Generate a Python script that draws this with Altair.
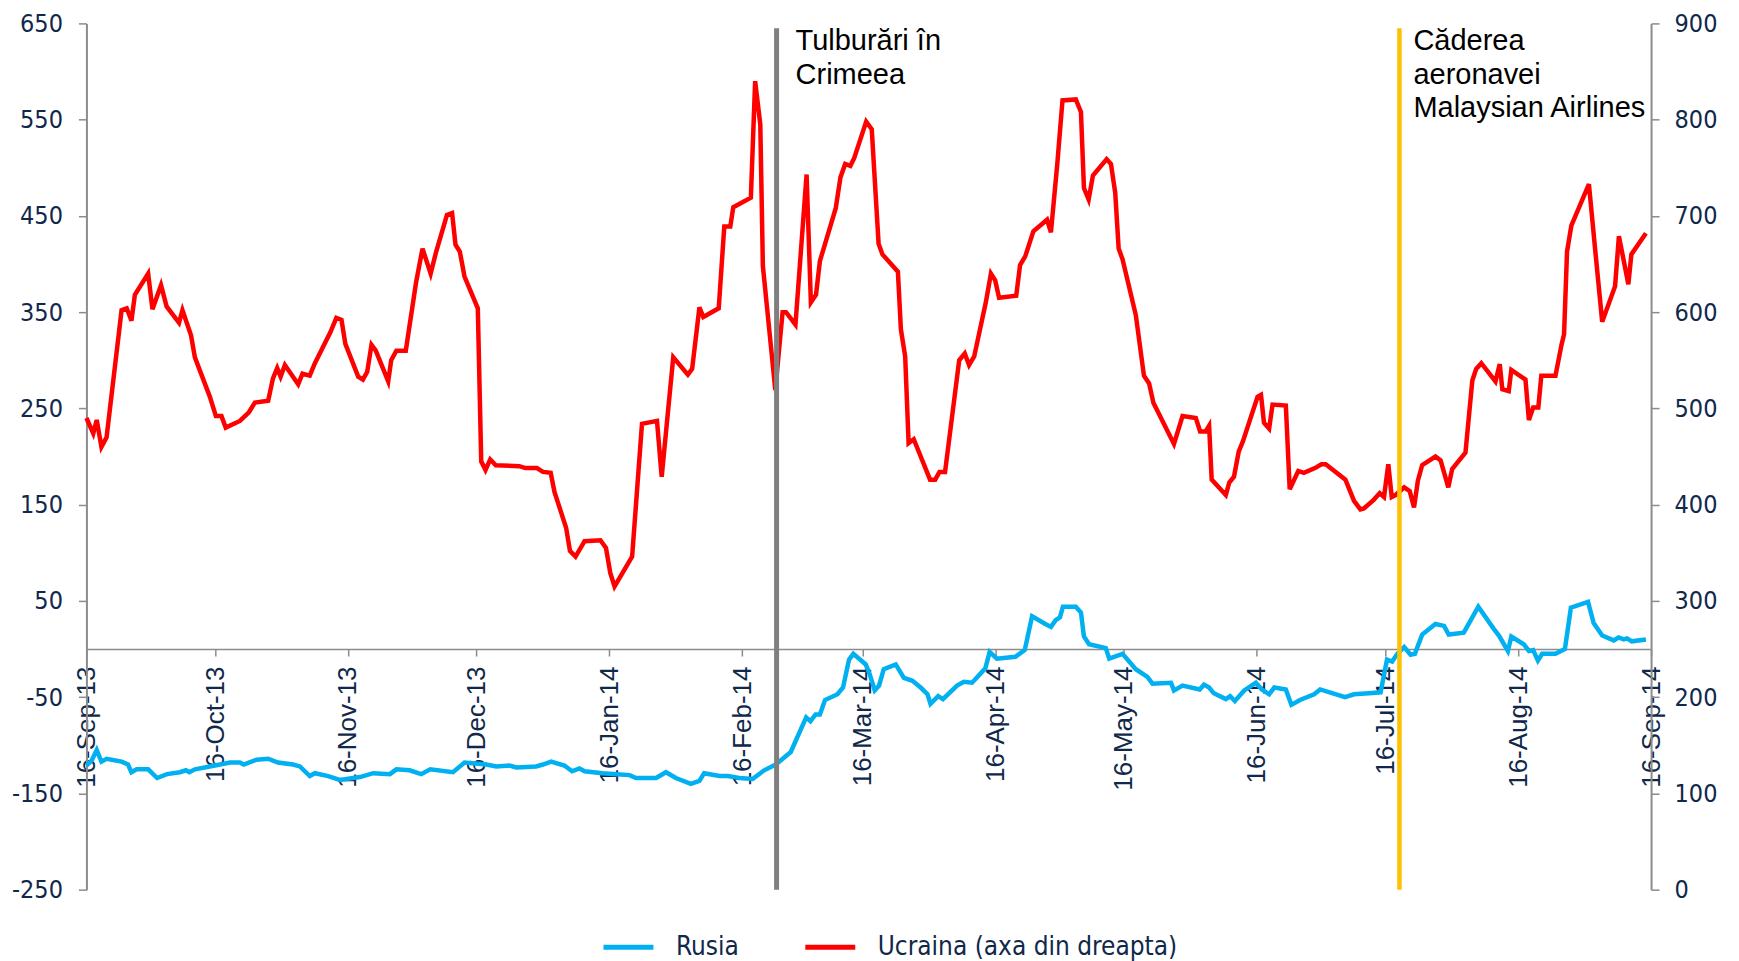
import altair as alt
import pandas as pd

START = "2013-09-16"

# Ucraina (right axis) - day offset from 16-Sep-13 and value
ukr_day = [0, 1.6, 2.4, 3.5, 4.7, 8.2, 9.4, 10.5, 11.3, 14.4, 15.4, 17.4, 18.7, 21.6, 22.4, 24.4, 25.3, 28.8, 30.2, 31.5,
           32.5, 35.8, 37.9, 39.3, 42.4, 43.5, 44.5, 45.3, 46.3, 49.4, 50.4, 52.1, 53.3, 56.9, 58.3, 59.5, 60.4, 63.4, 64.5, 65.5,
           66.5, 67.5, 70.4, 71.1, 72.3, 74.5,
           76.9, 78.4, 80.3, 81.6, 84.1, 85.3, 86.1, 87.1, 88.2, 91.3, 92.1, 93.1, 94.2, 95.5, 101.0, 102.4, 105.1, 106.5, 108.3, 109.2,
           111.9, 112.8, 114.1, 116.2, 119.9, 121.2, 122.2, 123.2, 127.3, 129.6, 133.1, 134.2, 135.8, 136.9, 140.3, 141.3, 143.0, 143.9, 147.5,
           148.8, 150.2, 150.9, 155.0, 156.0, 157.2, 157.8, 160.7, 162.4, 163.2, 165.4, 168.0, 169.0, 170.2, 171.1, 174.8, 175.9, 177.0, 178.2, 179.1,
           181.9, 183.2, 184.8, 185.7, 189.3, 190.0, 191.0, 191.8, 193.0, 196.8, 198.0, 199.0, 200.3, 203.6, 204.9, 205.9, 207.1, 209.8, 211.0, 212.0,
           212.9, 216.9, 217.8, 219.0, 220.9, 224.1,
           225.0, 226.5, 227.7, 230.8, 232.0, 232.7, 233.8, 234.8, 238.0, 239.0, 240.0, 240.8, 241.7, 244.8, 246.7, 247.9, 248.9, 253.7, 255.7, 258.8,
           259.8, 261.1, 261.9, 262.5, 265.8, 266.6, 267.7, 268.8, 269.8, 273.2, 274.0, 274.7, 275.9, 276.7, 279.8, 280.7, 282.7, 284.0, 286.6, 288.1,
           289.1, 293.7, 295.7, 297.2, 298.0,
           300.3, 301.7, 302.7, 303.7, 304.5, 305.4, 307.4, 308.7, 309.7, 310.6, 311.6, 314.7, 315.9, 317.7, 318.6, 321.7, 323.3, 324.2, 325.4, 328.7,
           329.7, 330.3, 331.8, 332.4, 335.7, 336.5, 337.5, 338.7, 339.4, 342.7, 344.1, 344.7, 345.4, 346.4, 350.5, 352.0, 353.6, 356.6, 357.5, 359.7,
           360.4, 363.8]
ukr_val = [490, 474, 488, 460, 470, 602, 604, 591, 618, 640, 603, 628, 606, 589, 602, 576, 553, 512, 492, 492,
           480, 487, 496, 506, 508, 531, 542, 533, 545, 525, 536, 534, 547, 579, 594, 592, 567, 533, 530, 538,
           566, 560, 528, 550, 560, 560,
           631, 666, 640, 663, 701, 703, 670, 663, 637, 604, 445, 436, 447, 441, 440, 438, 438, 434, 433, 413,
           376, 352, 346, 362, 363, 355, 329, 315, 346, 484, 487, 429, 503, 553, 535, 541, 605, 595, 604,
           689, 689, 709, 719, 840, 795, 648, 519, 600, 600, 587, 743, 610, 618, 653, 708, 740, 754, 752, 760,
           798, 790, 671, 660, 642, 582, 554, 464, 468, 426, 426, 434, 434, 550, 557, 545, 554, 610, 640, 633,
           615, 617, 649, 658, 684, 696,
           683, 755, 820, 821, 808, 729, 717, 742, 759, 754, 724, 666, 655, 597, 534, 526, 506, 463, 492, 490,
           476, 476, 482, 426, 410, 423, 429, 455, 466, 512, 514, 485, 479, 504, 503, 416, 435, 433, 438, 442,
           442, 426, 404, 395, 396,
           405, 412, 408, 442, 408, 410, 418, 414, 397, 425, 441, 450, 446, 418, 437, 454, 529, 541, 547, 528,
           546, 520, 518, 540, 530, 488, 501, 501, 534, 534, 566, 577, 663, 690, 733, 663, 590, 627, 679, 629,
           660, 682]

# Rusia (left axis)
rus_day = [0, 1.2, 2.4, 3.5, 4.7, 8.2, 9.7, 10.5, 11.7, 14.4, 16.5, 18.8, 21.8, 23.2, 24.0, 25.3, 28.8, 33.5, 35.8, 36.7,
           39.7, 42.4, 44.7, 48.2, 49.8, 52.1, 53.3, 56.4, 59.1, 63.8, 66.9, 70.8, 72.3, 75.4,
           78.1, 80.2, 85.5, 88.2, 93.3, 95.6, 98.7, 100.3, 104.9, 106.5, 108.4, 111.5, 113.3, 115.0, 116.2,
           120.4, 123.6, 126.7, 128.2, 132.9, 135.2, 137.5, 141.0, 143.0, 144.1, 147.7,
           149.6, 152.3, 155.4, 158.1, 160.8, 162.7, 164.3, 167.9, 168.9, 170.1, 171.1, 172.3, 175.2, 176.5, 177.9,
           178.9, 181.8, 182.7, 183.9, 184.9, 186.0, 188.8, 190.7, 192.7, 194.6, 196.2, 196.9, 198.7, 199.8, 203.1,
           204.7, 206.6, 209.7, 210.7, 212.4, 216.7, 218.9, 220.6, 223.7,
           225.0, 226.1, 227.1, 227.8, 230.8, 232.0, 232.7, 233.9, 237.8, 238.6, 241.7, 244.8, 247.5, 248.7, 253.0,
           253.7, 255.7, 259.7, 260.7, 261.9, 263.0, 265.8, 266.8, 267.9, 270.1, 272.8, 274.2, 275.9, 277.1, 279.8,
           281.1, 283.1, 286.4, 287.8, 293.6, 295.7, 299.2,
           301.9, 303.4, 304.6, 305.8, 307.4, 308.9, 309.9, 311.6, 314.7, 316.7, 317.8, 321.3, 324.7, 328.3, 329.5,
           331.6, 332.4, 335.3, 336.5, 337.5, 338.6, 339.6, 342.7, 344.9, 346.3, 350.3, 351.6, 353.6, 356.3, 357.4,
           358.6, 359.4, 360.5, 363.8]
rus_val = [-121, -116, -105, -117, -114, -117, -120, -128, -125, -125, -134, -130, -128, -126, -128, -125, -122, -118, -118, -120,
           -115, -114, -118, -120, -122, -132, -129, -132, -136, -133, -129, -130, -125, -126,
           -130, -125, -128, -118, -120, -122, -121, -123, -122, -120, -117, -121, -127, -124, -127,
           -129, -130, -131, -134, -134, -128, -134, -140, -137, -129, -132,
           -132, -134, -135, -126, -120, -113, -107, -71, -75, -68, -68, -53, -47, -40, -11,
           -5, -16, -26, -43, -38, -21, -16, -30, -33, -40, -47, -57, -49, -52, -38,
           -34, -35, -20, -3, -10, -8, -1, 34, 26,
           23, 30, 33, 44, 44, 38, 13, 5, 1, -10, -5, -21, -29, -36, -35,
           -43, -38, -42, -37, -40, -46, -52, -49, -54, -43, -35, -42, -47, -40, -42,
           -58, -53, -47, -42, -50, -47, -46,
           -45, -11, -13, -5, 2, -6, -5, 15, 26, 24, 15, 17, 44, 21, 14,
           -2, 13, 5, -2, -1, -12, -5, -5, 0, 43, 49, 27, 14, 9, 12,
           10, 11, 8, 10]

tick_dates = ["2013-09-16", "2013-10-16", "2013-11-16", "2013-12-16", "2014-01-16", "2014-02-16", "2014-03-16",
              "2014-04-16", "2014-05-16", "2014-06-16", "2014-07-16", "2014-08-16", "2014-09-16"]
series_names = ["Rusia", "Ucraina (axa din dreapta)"]
event_day = [161.0, 306.3]
event_text = ["Tulburări în\nCrimeea", "Căderea\naeronavei\nMalaysian Airlines"]


def to_iso(days):
    base = pd.Timestamp(START)
    return [(base + pd.Timedelta(days=d)).strftime("%Y-%m-%dT%H:%M:%S") for d in days]


def dt(s):
    t = pd.Timestamp(s)
    return alt.DateTime(year=t.year, month=t.month, date=t.day)


ukr_df = pd.DataFrame({"date": to_iso(ukr_day), "value": ukr_val, "series": series_names[1]})
rus_df = pd.DataFrame({"date": to_iso(rus_day), "value": rus_val, "series": series_names[0]})
ev_df = pd.DataFrame({"date": to_iso(event_day), "label": event_text, "idx": [0, 1]})

W, H = 1566, 867
NAVY = "#10284A"
GRAY = "#8C8C8C"
NUM_FONT = "DejaVu Sans Condensed"

x_enc = alt.X(
    "date:T",
    scale=alt.Scale(domain=[dt(tick_dates[0]), dt(tick_dates[-1])]),
    axis=alt.Axis(
        orient="bottom", values=[dt(s) for s in tick_dates], format="%d-%b-%y",
        labelAngle=270, labelFont="Liberation Sans", labelFontSize=26, labelColor=NAVY,
        labelFlush=False, labelOverlap=False, labelBound=False, labelPadding=10,
        tickSize=7, tickColor=GRAY, tickWidth=1.5, domainColor=GRAY, domainWidth=1.5,
        grid=False, title=None, offset=-H * 250 / 900,
    ),
)

color_enc = alt.Color(
    "series:N",
    scale=alt.Scale(domain=series_names, range=["#00B0F0", "#FF0000"]),
    legend=alt.Legend(
        orient="none", legendX=515, legendY=897, direction="horizontal", title=None,
        symbolType="stroke", symbolSize=2500, symbolStrokeWidth=5,
        labelFont=NUM_FONT, labelFontSize=26, labelColor=NAVY, labelOffset=20,
        columnPadding=56, labelLimit=1000, padding=0,
    ),
)

left_axis = alt.Axis(
    orient="left", values=list(range(-250, 651, 100)), title=None, grid=False,
    labelExpr="datum.value + ''",
    labelFont=NUM_FONT, labelFontSize=25, labelColor=NAVY, labelPadding=16,
    tickSize=8, tickColor=GRAY, tickWidth=1.5, domainColor=GRAY, domainWidth=2,
)
right_axis = alt.Axis(
    orient="right", values=list(range(0, 901, 100)), title=None, grid=False,
    labelExpr="datum.value + ''",
    labelFont=NUM_FONT, labelFontSize=25, labelColor=NAVY, labelPadding=15,
    tickSize=8, tickColor=GRAY, tickWidth=1.5, domainColor=GRAY, domainWidth=2,
)
y_left = alt.Y("value:Q", scale=alt.Scale(domain=[-250, 650], nice=False, zero=False), axis=left_axis)
y_right_scale = alt.Scale(domain=[0, 900], nice=False, zero=False)


def y_right(field):
    return alt.Y(field, type="quantitative", scale=y_right_scale, axis=right_axis)


blue = alt.Chart(rus_df).mark_line(strokeWidth=4.5).encode(x=x_enc, y=y_left, color=color_enc)

red = alt.Chart(ukr_df).mark_line(strokeWidth=4.5).encode(x=x_enc, y=y_right("value"), color=color_enc)

ev = alt.Chart(ev_df).transform_calculate(top="895", bottom="0", ty="872")
rule1 = ev.transform_filter("datum.idx == 0").mark_rule(color="#7F7F7F", strokeWidth=5).encode(
    x=x_enc, y=y_right("top"), y2="bottom:Q",
)
rule2 = ev.transform_filter("datum.idx == 1").mark_rule(color="#FFC000", strokeWidth=4.5).encode(
    x=x_enc, y=y_right("top"), y2="bottom:Q",
)

txt1 = ev.transform_filter("datum.idx == 0").mark_text(
    align="left", baseline="alphabetic", font="Liberation Sans", fontSize=29, lineHeight=33.5,
    lineBreak="\n", color="black", dx=19,
).encode(x=x_enc, y=y_right("ty"), text="label:N")
txt2 = ev.transform_filter("datum.idx == 1").mark_text(
    align="left", baseline="alphabetic", font="Liberation Sans", fontSize=29, lineHeight=33.5,
    lineBreak="\n", color="black", dx=14,
).encode(x=x_enc, y=y_right("ty"), text="label:N")

right_layer = alt.layer(red, rule1, rule2, txt1, txt2)

chart = alt.layer(blue, right_layer).resolve_scale(y="independent").properties(
    width=W, height=H,
    autosize=alt.AutoSizeParams(type="none"),
    padding={"left": 78.5, "top": 15, "right": 80, "bottom": 78},
).configure(background="white").configure_view(strokeWidth=0)

chart.save("out.html", embed_options={"renderer": "svg", "actions": False})
